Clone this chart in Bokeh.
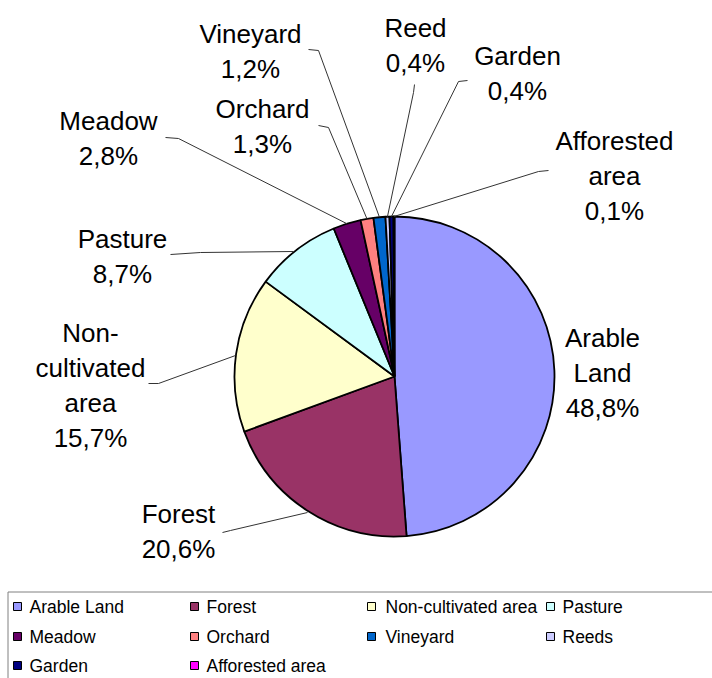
import numpy as np
from bokeh.plotting import figure
from bokeh.models import Range1d
from bokeh.core.properties import value
from bokeh.embed import file_html
from bokeh.resources import INLINE

# ---- data ----
categories = ["Arable Land", "Forest", "Non-cultivated area", "Pasture", "Meadow",
              "Orchard", "Vineyard", "Reeds", "Garden", "Afforested area"]
label_names = ["Arable\nLand", "Forest", "Non-\ncultivated\narea", "Pasture", "Meadow",
               "Orchard", "Vineyard", "Reed", "Garden", "Afforested\narea"]
percents = [48.8, 20.6, 15.7, 8.7, 2.8, 1.3, 1.2, 0.4, 0.4, 0.1]
colors = ["#9999FF", "#993366", "#FFFFCC", "#CCFFFF", "#660066",
          "#FF8080", "#0066CC", "#CCCCFF", "#000080", "#FF00FF"]

# ---- layout (picture pixel coordinates) ----
W, H = 712, 678
def Y(py):
    return H - py

CX, CY, R = 394, 376, 160

label_pos = [(602, 337), (178, 513), (90, 332), (122, 238), (108, 120),
             (262, 108), (250, 33), (415, 27), (517, 55), (614, 140)]
LINE_SP = 35
leaders = [
    None,
    [(222, 532), (230, 530), (307, 512)],
    [(148, 383), (158, 383), (235, 355)],
    [(170, 254), (200, 252), (293, 251)],
    [(165, 137), (178, 138), None],
    [(318, 125), (328, 127), None],
    [(308, 49), (318, 50), None],
    [(414, 84), (413, 92), None],
    [(467, 80), (458, 81), None],
    [(548, 170), (538, 171), None],
]

p = figure(width=W, height=H, x_range=Range1d(0, W), y_range=Range1d(0, H),
           output_backend="svg", toolbar_location=None, min_border=0)
p.axis.visible = False
p.grid.visible = False
p.outline_line_color = None
p.background_fill_color = "white"

# ---- pie ----
vals = np.array(percents) / 100.0
cum = np.concatenate([[0], np.cumsum(vals)])
start = np.pi / 2 - cum[:-1] * 2 * np.pi
end = np.pi / 2 - cum[1:] * 2 * np.pi
p.wedge(x=CX, y=Y(CY), radius=R, start_angle=start, end_angle=end,
        direction="clock", fill_color=colors, line_color="black", line_width=1.8)

# ---- leader lines ----
mid = (cum[:-1] + cum[1:]) / 2 * 2 * np.pi
for i, pts in enumerate(leaders):
    if pts is None:
        continue
    xs, ys = [], []
    for pt in pts:
        if pt is None:
            ex = CX + R * np.sin(mid[i])
            ey = CY - R * np.cos(mid[i])
            xs.append(ex); ys.append(Y(ey))
        else:
            xs.append(pt[0]); ys.append(Y(pt[1]))
    p.line(xs, ys, line_color="#333333", line_width=1)

# ---- labels ----
lx, ly, lt = [], [], []
for name, v, (x0, y0) in zip(label_names, percents, label_pos):
    lines = name.split("\n") + [f"{v:.1f}%".replace(".", ",")]
    for k, t in enumerate(lines):
        lx.append(x0); ly.append(Y(y0 + k * LINE_SP)); lt.append(t)
p.text(x=lx, y=ly, text=lt, text_align="center", text_baseline="middle",
       text_font=value("Liberation Sans"), text_font_size="26px", text_color="black")

# ---- legend ----
p.quad(left=[7.5], right=[730], top=[Y(591.5)], bottom=[Y(700)],
       fill_color=None, line_color="#808080", line_width=1)
col_sq = [17, 194, 371, 550]
col_tx = [29, 206, 385, 562]
row_y = [606, 636, 665]
sx, sy, tx, ty = [], [], [], []
for i, c in enumerate(categories):
    r, ccol = divmod(i, 4)
    sx.append(col_sq[ccol]); sy.append(Y(row_y[r]))
    tx.append(col_tx[ccol]); ty.append(Y(row_y[r]))
p.scatter(x=sx, y=sy, marker="square", size=8, fill_color=colors,
          line_color="black", line_width=1)
p.text(x=tx, y=ty, text=categories, text_align="left", text_baseline="middle",
       text_font=value("Liberation Sans"), text_font_size="17.5px", text_color="black")

open("out.html", "w").write(file_html(p, INLINE))
